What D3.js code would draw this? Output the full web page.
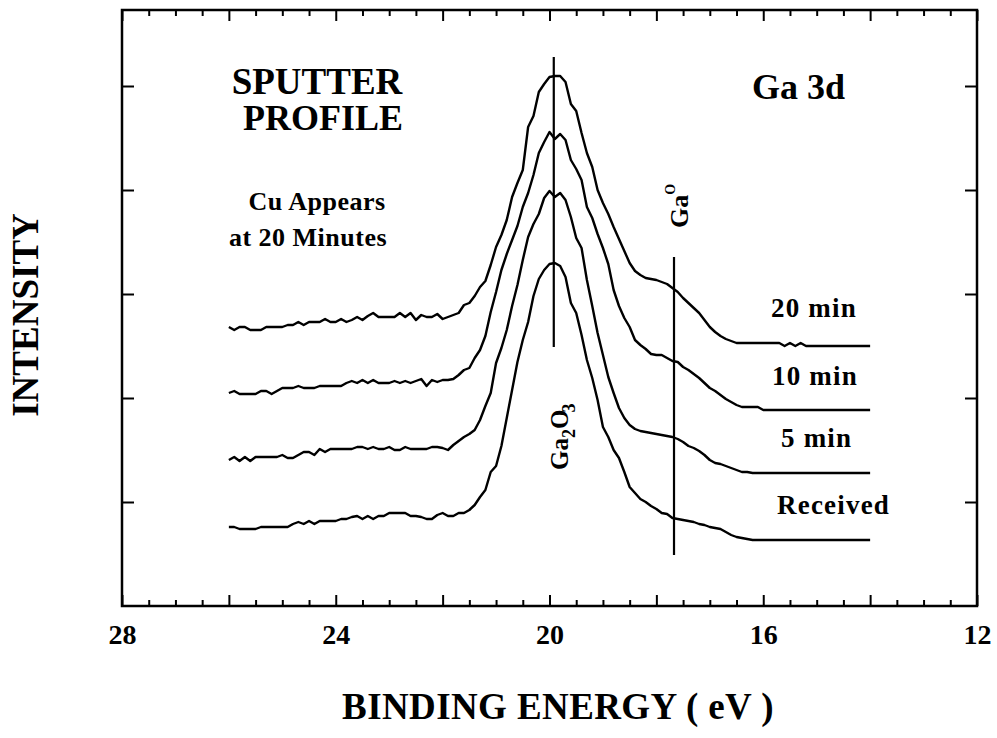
<!DOCTYPE html>
<html><head><meta charset="utf-8">
<script src="https://cdn.jsdelivr.net/npm/d3@7"></script>
<style>
html,body{margin:0;padding:0;background:#fff;}
svg text{font-family:"Liberation Serif","Times New Roman",Times,serif;font-weight:bold;fill:#000;}
</style></head><body>
<svg id="chart" width="997" height="738"></svg>
<script>
// Binding-energy sampling grid (eV): 26.0 down to 14.0, step 0.1
const energyStart = 26.0, energyStep = 0.1, nPoints = 121;

// Intensities (arbitrary units, stacked offsets included as plotted)
const received = [79,79,77,77,77,77,79,79,79,79,79,
 79,82,84,82,85,82,85,85,85,85,
 87,87,89,90,87,90,87,90,90,93,
 93,93,93,90,90,89,87,87,91,93,
 90,90,93,93,96,101,109,116,134,140,
 160,188,216,244,266,284,310,327,336,342,
 343,340,329,303,293,271,246,228,206,179,
 169,156,148,134,119,113,107,104,100,97,
 93,92,88,87,86,85,84,82,81,79,
 78,77,74,71,69,68,67,66,66,66,
 66,66,66,66,66,66,66,66,66,66,
 66,66,66,66,66,66,66,66,66,66];
const min5 = [146,149,145,149,145,149,149,149,149,149,151,
 148,148,151,154,154,151,157,154,157,157,
 157,157,157,159,159,157,159,157,157,159,
 156,156,159,157,157,157,157,159,159,158,
 156,161,165,169,172,176,186,200,213,243,
 258,276,300,321,346,369,382,392,408,415,
 409,413,406,389,368,358,326,300,273,251,
 229,213,198,188,181,177,175,174,173,172,
 171,170,169,167,164,160,158,155,151,146,
 143,142,140,138,136,134,134,133,133,133,
 133,133,133,133,133,133,133,133,133,133,
 133,133,133,133,133,133,133,133,133,133];
const min10 = [213,215,212,212,212,212,215,215,212,215,218,
 218,218,220,218,218,218,220,220,220,220,
 220,223,225,223,226,223,226,223,223,223,
 225,223,225,223,225,227,220,226,224,226,
 226,227,231,236,238,248,256,270,294,314,
 336,352,366,380,399,413,431,453,464,474,
 467,472,466,446,437,426,399,388,372,358,
 342,316,300,288,279,266,261,257,252,251,
 251,248,245,244,239,236,232,228,223,218,
 215,211,207,204,201,199,199,199,199,196,
 196,196,196,196,196,196,196,196,196,196,
 196,196,196,196,196,196,196,196,196,196];
const min20 = [279,276,279,279,276,276,276,279,279,279,279,
 281,281,284,281,284,284,284,287,284,284,
 287,284,286,289,286,290,293,289,289,289,
 289,293,289,293,286,291,289,289,292,287,
 289,291,293,301,303,310,319,325,341,359,
 371,386,409,423,436,479,490,514,522,529,
 530,530,524,502,495,473,453,439,416,403,
 392,379,367,355,343,335,331,328,327,326,
 324,322,318,314,308,303,298,293,286,279,
 274,270,267,265,263,263,263,263,263,263,
 263,263,263,260,263,260,263,260,260,260,
 260,260,260,260,260,260,260,260,260,260];

const seriesNames = ["Received","5 min","10 min","20 min"];
const xTickLabels = [28,24,20,16,12];
const xMajorTicks = [28,26,24,22,20,18,16,14,12];
const yTickValues = [104,208,312,416,520];
const markerEnergy = [19.92, 17.67];      // Ga2O3, Ga0 reference lines (eV)
const markerTop = [549, 349];
const markerBottom = [259, 51];

const svg = d3.select("#chart");
const x = d3.scaleLinear().domain([28,12]).range([122,977]);
const y = d3.scaleLinear().domain([0,596]).range([606,10]);

const energies = d3.range(nPoints).map(i => +(energyStart - i*energyStep).toFixed(1));
const xMinorTicks = d3.range(12, 28.01, 0.5).filter(v => v % 2 !== 0);

function styleAxis(g){ g.select(".domain").remove(); g.selectAll("line").attr("stroke","#000").attr("stroke-width",2); }

svg.append("g").attr("transform","translate(0,606)").call(d3.axisBottom(x).tickValues(xMajorTicks).tickSize(-11).tickFormat("")).call(styleAxis);
svg.append("g").attr("transform","translate(0,606)").call(d3.axisBottom(x).tickValues(xMinorTicks).tickSize(-6).tickFormat("")).call(styleAxis);
svg.append("g").attr("transform","translate(0,10)").call(d3.axisTop(x).tickValues(xMajorTicks).tickSize(-11).tickFormat("")).call(styleAxis);
svg.append("g").attr("transform","translate(0,10)").call(d3.axisTop(x).tickValues(xMinorTicks).tickSize(-6).tickFormat("")).call(styleAxis);
svg.append("g").attr("transform","translate(122,0)").call(d3.axisLeft(y).tickValues(yTickValues).tickSize(-12).tickFormat("")).call(styleAxis);
svg.append("g").attr("transform","translate(977,0)").call(d3.axisRight(y).tickValues(yTickValues).tickSize(-12).tickFormat("")).call(styleAxis);

const lab = svg.append("g").attr("transform","translate(0,606)")
  .call(d3.axisBottom(x).tickValues(xTickLabels).tickSize(0).tickPadding(18).tickFormat(d3.format("d")));
lab.select(".domain").remove();
lab.selectAll("text").attr("font-size",28).attr("font-family",null).style("font-family",'"Liberation Serif","Times New Roman",serif').style("font-weight","bold");

svg.append("rect").attr("x",122).attr("y",10).attr("width",855).attr("height",596)
  .attr("fill","none").attr("stroke","#000").attr("stroke-width",2.5);

const line = d3.line().x(d => x(d[0])).y(d => y(d[1]));
[received, min5, min10, min20].forEach(vals => {
  svg.append("path").datum(energies.map((e,i) => [e, vals[i]]))
    .attr("d", line).attr("fill","none").attr("stroke","#000").attr("stroke-width",2.4).attr("stroke-linejoin","round");
});

markerEnergy.forEach((e,i) => {
  svg.append("line").attr("x1",x(e)).attr("x2",x(e)).attr("y1",y(markerTop[i])).attr("y2",y(markerBottom[i]))
    .attr("stroke","#000").attr("stroke-width",2.2);
});

// Annotations
function txt(xp, yp, s, size, anchor){ return svg.append("text").attr("x",xp).attr("y",yp).attr("font-size",size).attr("text-anchor",anchor||"start").text(s); }
txt(317, 94, "SPUTTER", 37, "middle");
txt(323, 130, "PROFILE", 36, "middle");
txt(752, 99, "Ga 3d", 36);
txt(317, 210, "Cu Appears", 26, "middle").attr("letter-spacing",0.5);
txt(308, 246, "at 20 Minutes", 26, "middle").attr("letter-spacing",0.5);
const labelPos = [[777,514],[781,447],[772,385],[771,317]];
seriesNames.forEach((n,i) => txt(labelPos[i][0], labelPos[i][1], n, 27).attr("letter-spacing",1.2));

txt(558, 719, "BINDING ENERGY ( eV )", 37, "middle").attr("letter-spacing",0.4);
svg.append("text").attr("transform","translate(38,315) rotate(-90)").attr("font-size",37).attr("text-anchor","middle").text("INTENSITY");

const g2 = svg.append("text").attr("transform","translate(568,470) rotate(-90)").attr("font-size",25);
g2.append("tspan").text("Ga");
g2.append("tspan").attr("font-size",18).attr("dy",7).text("2");
g2.append("tspan").attr("dy",-7).text("O");
g2.append("tspan").attr("font-size",18).attr("dy",7).attr("dx",-3).text("3");

const g0 = svg.append("text").attr("transform","translate(688,228) rotate(-90)").attr("font-size",26);
g0.append("tspan").text("Ga");
g0.append("tspan").attr("font-size",14).attr("dy",-13).text("O");
</script>
</body></html>
